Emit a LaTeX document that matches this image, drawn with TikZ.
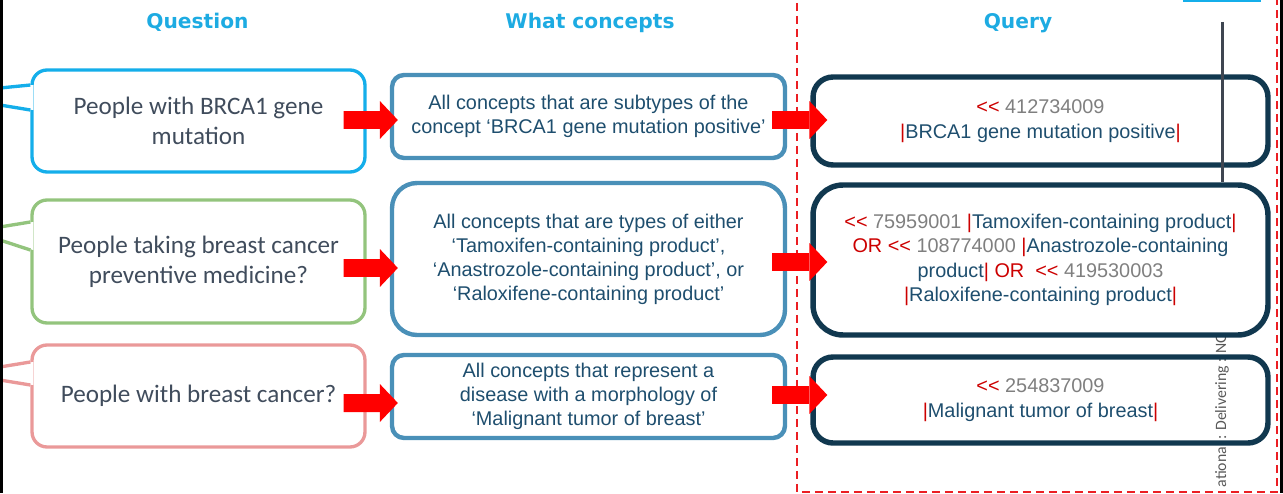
\documentclass[tikz,border=0pt]{standalone}
\usepackage{fontspec}
\setmainfont{Liberation Sans}
\newfontfamily\askfont{Carlito}
\newfontfamily\headfont{DejaVu Sans}
\usetikzlibrary{arrows.meta,calc}

\definecolor{headblue}{RGB}{29,171,226}
\definecolor{askblue}{RGB}{20,174,234}
\definecolor{askgreen}{RGB}{147,196,125}
\definecolor{askpink}{RGB}{234,153,153}
\definecolor{askink}{RGB}{64,76,92}
\definecolor{conceptline}{RGB}{74,144,184}
\definecolor{conceptink}{RGB}{30,78,110}
\definecolor{queryline}{RGB}{17,56,79}
\definecolor{queryred}{RGB}{204,0,0}
\definecolor{querygray}{RGB}{127,127,127}
\definecolor{arrowred}{RGB}{255,0,0}
\definecolor{framered}{RGB}{235,30,35}
\definecolor{rulegray}{RGB}{63,70,81}
\definecolor{notegray}{RGB}{89,89,89}

\newcommand{\qop}[1]{\textcolor{queryred}{#1}}
\newcommand{\qid}[1]{\textcolor{querygray}{#1}}
\newcommand{\qbar}{\textcolor{queryred}{|}}
\newcommand{\qsub}{\textcolor{queryred}{<\kern0pt<}}

\tikzset{
    head/.style={font=\headfont\bfseries\fontsize{11.5}{13}\selectfont,
                 text=headblue, anchor=base},
    ask/.style={draw, line width=1.9pt, rounded corners=0.3cm,
                minimum width=6.66cm, align=center, text=askink,
                font=\askfont\fontsize{14.3}{17}\selectfont},
    concept/.style={draw=conceptline, line width=2.5pt, minimum width=7.86cm,
                    align=center, text=conceptink,
                    font=\fontsize{11.3}{13.7}\selectfont},
    query/.style={draw=queryline, line width=3.1pt, minimum width=9.1cm,
                  align=center, text=conceptink,
                  font=\fontsize{11.3}{13.9}\selectfont},
    tail/.style={line width=1.9pt},
    bigarrow/.style={draw=arrowred, line width=0.36cm,
                     -{Triangle[length=0.36cm, width=0.76cm, line width=0pt]}},
    frame/.style={draw=framered, line width=1.1pt,
                  dash pattern=on 0.16cm off 0.1cm},
}

\begin{document}
\begin{tikzpicture}[x=0.02cm, y=-0.02cm]
    \useasboundingbox (0,0) rectangle (1283,493);

    \draw[frame] (797,-10) -- (797,492) -- (1277,492) -- (1277,-10);

    \node[head] (headquestion) at (197.5,29) {Question};
    \node[head] (headconcept) at (590,29) {What concepts};
    \node[head] (headquery) at (1018,29) {Query};

    % questions
    \node[ask, draw=askblue, minimum height=2.04cm] (askone) at (198.5,121)
        {People with BRCA1 gene\\mutation};
    \node[ask, draw=askgreen, minimum height=2.46cm] (asktwo) at (198.5,261.5)
        {People taking breast cancer\\preventive medicine?};
    \node[ask, draw=askpink, minimum height=2.04cm] (askthree) at (198.5,396)
        {People with breast cancer?};

    \fill[white] (-5,88) -- ($(askone.west)+(3,-36)$) -- ($(askone.west)+(3,-11)$) -- (-5,105) -- cycle;
    \draw[tail, askblue] (-5,88.5) -- ($(askone.west)+(0,-36)$);
    \draw[tail, askblue] (-5,104.2) -- ($(askone.west)+(0,-11)$);
    \fill[white] (-5,227) -- ($(asktwo.west)+(3,-39.5)$) -- ($(asktwo.west)+(3,-11.5)$) -- (-5,239) -- cycle;
    \draw[tail, askgreen] (-5,227.8) -- ($(asktwo.west)+(0,-39.5)$);
    \draw[tail, askgreen] (-5,238.4) -- ($(asktwo.west)+(0,-11.5)$);
    \fill[white] (-5,367) -- ($(askthree.west)+(3,-34)$) -- ($(askthree.west)+(3,-11)$) -- (-5,380) -- cycle;
    \draw[tail, askpink] (-5,367.8) -- ($(askthree.west)+(0,-34)$);
    \draw[tail, askpink] (-5,379.2) -- ($(askthree.west)+(0,-11)$);

    % concepts
    \node[concept, rounded corners=0.24cm, minimum height=1.66cm] (conceptone) at (588.5,116.5)
        {All concepts that are subtypes of the\\concept ‘BRCA1 gene mutation positive’};
    \node[concept, rounded corners=0.5cm, minimum height=3.04cm] (concepttwo) at (588.5,259)
        {All concepts that are types of either\\‘Tamoxifen-containing product’,\\‘Anastrozole-containing product’, or\\‘Raloxifene-containing product’};
    \node[concept, rounded corners=0.24cm, minimum height=1.66cm] (conceptthree) at (588.5,396.5)
        {All concepts that represent a\\disease with a morphology of\\‘Malignant tumor of breast’};

    % queries
    \node[rotate=90, inner sep=0pt, text=notegray, font=\askfont\fontsize{9}{11}\selectfont]
        (footnote) at (1222,410) {ational : Delivering : NO};
    \node[query, rounded corners=0.4cm, minimum height=1.76cm] (queryone) at (1040.5,121)
        {\qsub\ \qid{412734009}\\\qbar BRCA1 gene mutation positive\qbar};
    \node[query, rounded corners=0.6cm, minimum height=3.0cm] (querytwo) at (1040.5,260)
        {\qsub\ \qid{75959001} \qbar Tamoxifen-containing product\qbar\\
         \qop{OR} \qsub\ \qid{108774000} \qbar Anastrozole-containing\\
         product\qbar\ \qop{OR}\ \ \qsub\ \qid{419530003}\\
         \qbar Raloxifene-containing product\qbar};
    \node[query, rounded corners=0.4cm, minimum height=1.72cm] (querythree) at (1040.5,400)
        {\qsub\ \qid{254837009}\\\qbar Malignant tumor of breast\qbar};

    \coordinate (ruletop) at (1222,22);
    \draw[rulegray, line width=1.7pt] (ruletop) -- (ruletop |- querytwo.north);
    \draw[askblue, line width=1.2pt] (1183,0.5) -- (1261,0.5);

    % arrows
    \draw[bigarrow] ($(askone.east)+(-23,-1)$) -- ($(conceptone.west)+(8,3.5)$);
    \draw[bigarrow] ($(asktwo.east)+(-23,6.5)$) -- ($(concepttwo.west)+(8,9)$);
    \draw[bigarrow] ($(askthree.east)+(-23,7)$) -- ($(conceptthree.west)+(8,6.5)$);
    \draw[bigarrow] ($(conceptone.east)+(-15,3.5)$) -- ($(queryone.west)+(17,-1)$);
    \draw[bigarrow] ($(concepttwo.east)+(-15,3)$) -- ($(querytwo.west)+(17,2)$);
    \draw[bigarrow] ($(conceptthree.east)+(-15,-1.5)$) -- ($(querythree.west)+(17,-5)$);

    \draw[line width=1.7pt] (1.5,0) -- (1.5,493);
    \draw[line width=1.2pt] (1281.5,0) -- (1281.5,493);
\end{tikzpicture}
\end{document}
